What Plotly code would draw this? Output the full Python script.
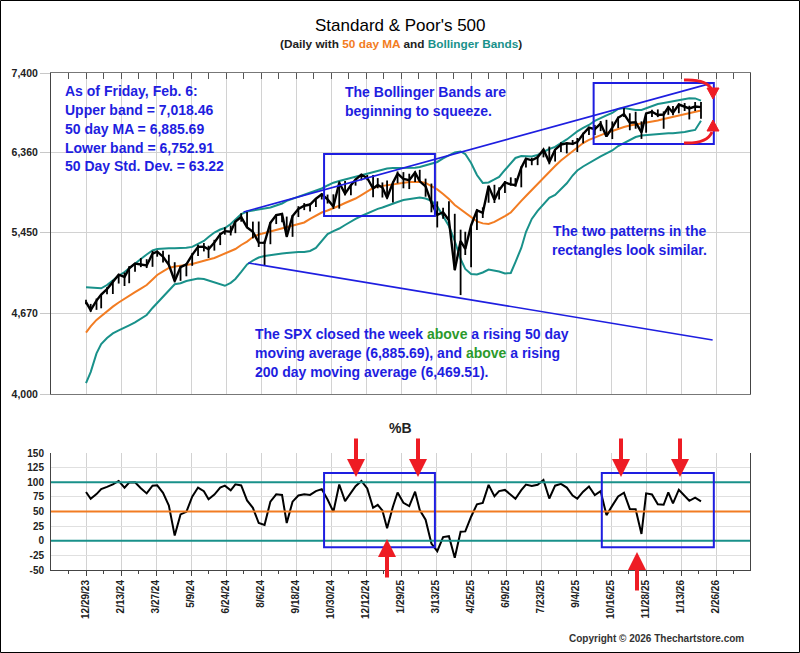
import numpy as np
import pandas as pd
import plotly.graph_objects as go

# NYSE closures inside the plotted window (skipped on the x axis)
holidays = ["2023-11-23", "2023-12-25",
            "2024-01-01", "2024-01-15", "2024-02-19", "2024-03-29", "2024-05-27", "2024-06-19",
            "2024-07-04", "2024-09-02", "2024-11-28", "2024-12-25",
            "2025-01-01", "2025-01-09", "2025-01-20", "2025-02-17", "2025-04-18", "2025-05-26",
            "2025-06-19", "2025-07-04", "2025-09-01", "2025-11-27", "2025-12-25",
            "2026-01-01", "2026-01-19", "2026-02-16", "2026-04-03"]

tick_dates = ["2023-12-29", "2024-02-13", "2024-03-27", "2024-05-09", "2024-06-24", "2024-08-06",
              "2024-09-18", "2024-10-30", "2024-12-12", "2025-01-29", "2025-03-13", "2025-04-25",
              "2025-06-09", "2025-07-23", "2025-09-04", "2025-10-16", "2025-11-28", "2026-01-13",
              "2026-02-26"]
tick_labels = ["12/29/23", "2/13/24", "3/27/24", "5/9/24", "6/24/24", "8/6/24", "9/18/24",
               "10/30/24", "12/12/24", "1/29/25", "3/13/25", "4/25/25", "6/9/25", "7/23/25",
               "9/4/25", "10/16/25", "11/28/25", "1/13/26", "2/26/26"]

price_ticks = [4000, 4670, 5450, 6360, 7400]
pctb_ticks = [150, 125, 100, 75, 50, 25, 0, -25, -50]

# weekly bars (last trading day of each week), 12/29/23 .. 2/6/26
cbd = pd.offsets.CustomBusinessDay(holidays=holidays)
weeks = [cbd.rollback(d) for d in pd.date_range("2023-12-29", "2026-02-06", freq="W-FRI")]

close = [4770,
         4697, 4784, 4840, 4891, 4959, 5027, 5006, 5089, 5137, 5124, 5117, 5234, 5254,
         5204, 5123, 4967, 5100, 5128, 5223, 5303, 5305, 5278, 5347, 5432, 5465, 5460,
         5567, 5615, 5505, 5459, 5346, 5344, 5554, 5635, 5648, 5408, 5626, 5703, 5738,
         5751, 5815, 5865, 5808, 5729, 5996, 5871, 5969, 6032, 6090, 6051, 5931, 5971,
         5942, 5827, 5997, 6101, 6041, 6026, 6115, 6013, 5955, 5770, 5639, 5667, 5581,
         5074, 5363, 5283, 5525, 5687, 5660, 5958, 5803, 5912, 6000, 5977, 5968, 6173,
         6279, 6260, 6297, 6389, 6238, 6389, 6450, 6467, 6460, 6482, 6584, 6664, 6644,
         6716, 6553, 6664, 6792, 6840, 6728, 6734, 6603, 6849, 6870, 6827, 6834, 6930,
         6858, 6966, 6940, 6915, 6939, 6932]
high = [4793,
        4754, 4803, 4842, 4907, 4975, 5030, 5048, 5111, 5141, 5190, 5179, 5262, 5265,
        5264, 5224, 5149, 5114, 5139, 5239, 5325, 5342, 5315, 5375, 5448, 5506, 5524,
        5570, 5655, 5670, 5566, 5567, 5366, 5561, 5643, 5651, 5620, 5636, 5733, 5767,
        5765, 5823, 5878, 5862, 5865, 6013, 6017, 5972, 6044, 6099, 6086, 6085, 6050,
        6000, 6021, 6012, 6128, 6120, 6101, 6127, 6147, 6044, 5987, 5786, 5715, 5787,
        5650, 5481, 5459, 5528, 5700, 5720, 5965, 5973, 5944, 6016, 6059, 6050, 6187,
        6285, 6290, 6315, 6395, 6427, 6395, 6481, 6474, 6508, 6533, 6600, 6672, 6699,
        6750, 6765, 6744, 6807, 6920, 6850, 6870, 6745, 6853, 6896, 6901, 6875, 6945,
        6945, 6980, 6986, 6950, 7000, 7000]
low = [4751,
       4682, 4700, 4714, 4842, 4845, 4943, 4920, 4946, 5057, 5101, 5092, 5104, 5204,
       5147, 5107, 4953, 4969, 5012, 5114, 5211, 5257, 5191, 5265, 5321, 5428, 5420,
       5444, 5565, 5497, 5390, 5302, 5119, 5330, 5540, 5560, 5402, 5406, 5615, 5690,
       5674, 5725, 5807, 5762, 5703, 5706, 5853, 5853, 5963, 6024, 6026, 5832, 5933,
       5829, 5809, 5773, 5990, 5933, 5924, 6004, 6009, 5838, 5666, 5504, 5597, 5572,
       5069, 4835, 5221, 5101, 5478, 5605, 5771, 5768, 5807, 5881, 5963, 5952, 5944,
       6174, 6201, 6202, 6295, 6212, 6245, 6360, 6343, 6445, 6360, 6467, 6570, 6570,
       6620, 6550, 6520, 6660, 6800, 6631, 6650, 6522, 6600, 6800, 6800, 6650, 6830,
       6825, 6850, 6880, 6770, 6880, 6780]
ma50 = [4499,
        4553, 4610, 4645, 4685, 4729, 4767, 4804, 4833, 4863, 4896, 4929, 4982, 5025,
        5059, 5093, 5108, 5112, 5122, 5132, 5145, 5161, 5176, 5191, 5214, 5232, 5256,
        5281, 5322, 5357, 5404, 5430, 5446, 5462, 5479, 5493, 5504, 5517, 5533, 5557,
        5595, 5632, 5664, 5686, 5710, 5738, 5768, 5796, 5818, 5857, 5897, 5937, 5952,
        5960, 5965, 5977, 5988, 6000, 6005, 6005, 6009, 5994, 5960, 5920, 5868, 5813,
        5746, 5697, 5664, 5611, 5568, 5547, 5541, 5563, 5589, 5626, 5664, 5724, 5791,
        5846, 5914, 5977, 6057, 6127, 6192, 6258, 6312, 6367, 6421, 6471, 6509, 6540,
        6571, 6597, 6622, 6651, 6673, 6692, 6705, 6711, 6724, 6737, 6756, 6776, 6789,
        6798, 6815, 6835, 6846, 6862, 6885.69]
upper = [4907,
         4905, 4901, 4898, 4929, 4977, 5016, 5054, 5092, 5137, 5181, 5226, 5266, 5281,
         5288, 5288, 5288, 5288, 5293, 5303, 5334, 5363, 5404, 5451, 5482, 5498, 5541,
         5589, 5648, 5675, 5686, 5692, 5703, 5719, 5741, 5763, 5791, 5813, 5835, 5863,
         5886, 5908, 5931, 5965, 5997, 6016, 6034, 6051, 6063, 6080, 6098, 6121, 6139,
         6151, 6163, 6169, 6169, 6171, 6172, 6172, 6180, 6198, 6222, 6240, 6282, 6318,
         6355, 6367, 6336, 6228, 6086, 5994, 6000, 6034, 6063, 6145, 6228, 6288, 6312,
         6312, 6306, 6324, 6365, 6397, 6422, 6465, 6515, 6571, 6616, 6660, 6698, 6750,
         6789, 6822, 6854, 6907, 6920, 6907, 6894, 6894, 6914, 6947, 6973, 6987, 7000,
         7007, 7020, 7041, 7051, 7048, 7018.46]
lower = [4085,
         4172, 4324, 4402, 4453, 4493, 4518, 4540, 4562, 4588, 4619, 4654, 4717, 4762,
         4822, 4873, 4936, 4946, 4967, 4980, 4991, 4986, 4972, 4958, 4934, 4922, 4950,
         4987, 5054, 5127, 5166, 5196, 5211, 5221, 5228, 5236, 5241, 5249, 5252, 5252,
         5262, 5292, 5368, 5435, 5466, 5493, 5530, 5568, 5595, 5626, 5654, 5686, 5703,
         5719, 5735, 5757, 5779, 5802, 5813, 5818, 5829, 5818, 5791, 5730, 5626, 5519,
         5363, 5181, 5083, 5035, 5030, 5049, 5078, 5068, 5059, 5040, 5044, 5151, 5292,
         5456, 5595, 5681, 5757, 5825, 5857, 5920, 5990, 6080, 6139, 6186, 6228, 6264,
         6306, 6343, 6379, 6434, 6471, 6515, 6546, 6565, 6571, 6578, 6584, 6590, 6593,
         6593, 6597, 6610, 6622, 6635, 6752.91]

close_a = np.array(close, dtype=float)
pct_b = (close_a - np.array(lower)) / (np.array(upper) - np.array(lower)) * 100

TEAL = "#19918a"
ORANGE = "#f27c22"
BLUE = "#1e1ee0"
RED = "#ee1c24"
GREEN = "#2b9a2b"
GRID = "#d2d2d2"
FONT = "Liberation Sans, Arial, sans-serif"

# plot area in pixels: x 51..750, y 73..570
def px(x):
    return (x - 51) / 699


def py(y):
    return (570 - y) / 497


fig = go.Figure()

# price panel
fig.add_trace(go.Scatter(x=weeks, y=upper, xaxis="x2", yaxis="y2", mode="lines",
                         line=dict(color=TEAL, width=2)))
fig.add_trace(go.Scatter(x=weeks, y=lower, xaxis="x2", yaxis="y2", mode="lines",
                         line=dict(color=TEAL, width=2)))
fig.add_trace(go.Scatter(x=weeks, y=ma50, xaxis="x2", yaxis="y2", mode="lines",
                         line=dict(color=ORANGE, width=2)))
fig.add_trace(go.Scatter(x=weeks, y=close, xaxis="x2", yaxis="y2", mode="lines",
                         line=dict(color="black", width=2.4),
                         error_y=dict(type="data", symmetric=False,
                                      array=np.array(high) - close_a,
                                      arrayminus=close_a - np.array(low),
                                      width=0, thickness=1.8, color="black")))

# %B panel
fig.add_trace(go.Scatter(x=weeks, y=pct_b, xaxis="x", yaxis="y", mode="lines",
                         line=dict(color="black", width=2)))

rangebreaks = [dict(bounds=["sat", "mon"]), dict(values=holidays)]
x_range = ["2023-11-15", "2026-04-09"]
minor_ticks = [pd.Timestamp(tick_dates[0]) - 15 * cbd] + [pd.Timestamp(d) + 15 * cbd for d in tick_dates]

tick_font = dict(family=FONT, size=10.5, color="#222", weight="bold")
small_font = dict(family=FONT, size=10, color="#222", weight="bold")

price_axis = dict(type="log", range=[np.log10(4000), np.log10(7400)], tickvals=price_ticks,
                  ticktext=[f"{v:,}" for v in price_ticks], tickfont=tick_font,
                  domain=[py(394), 1], showgrid=True, gridcolor=GRID, zeroline=False,
                  ticks="outside", ticklen=10, tickcolor="#c8c8c8")
pctb_axis = dict(range=[-50, 150], tickvals=pctb_ticks, ticktext=[str(v) for v in pctb_ticks],
                 tickfont=small_font, domain=[0, py(453)], showgrid=True, gridcolor="#e0e0e0",
                 zeroline=False, ticks="outside", ticklen=4, tickcolor="white")

fig.update_layout(
    width=800, height=653,
    margin=dict(l=51, r=50, t=73, b=83),
    paper_bgcolor="white", plot_bgcolor="white",
    showlegend=False,
    font=dict(family=FONT),
    xaxis=dict(type="date", range=x_range, rangebreaks=rangebreaks, anchor="y",
               tickvals=tick_dates, ticktext=tick_labels, tickangle=-90, tickfont=small_font,
               ticks="outside", ticklen=5, tickcolor="#444",
               minor=dict(tickvals=minor_ticks, ticks="outside", ticklen=3, tickcolor="#444"),
               showgrid=True, gridcolor=GRID, showline=True, linecolor="#444", mirror=False),
    xaxis2=dict(type="date", range=x_range, rangebreaks=rangebreaks, anchor="y2", side="top",
                tickvals=tick_dates, showticklabels=False, ticks="inside", ticklen=6,
                tickcolor="#555",
                minor=dict(tickvals=minor_ticks, ticks="inside", ticklen=6, tickcolor="#555"),
                showgrid=True, gridcolor=GRID, showline=True, linecolor="#777", mirror=True),
    yaxis=dict(anchor="x", showline=True, linecolor="#444", mirror=True, **pctb_axis),
    yaxis4=dict(anchor="x", overlaying="y", side="right", **{**pctb_axis, "showgrid": False}),
    yaxis2=dict(anchor="x2", showline=True, linecolor="#444", mirror=True, **price_axis),
    yaxis3=dict(anchor="x2", overlaying="y2", side="right", **{**price_axis, "showgrid": False}),
)

shapes = []
# reference levels on %B
for level, col in [(100, TEAL), (50, ORANGE), (0, TEAL)]:
    shapes.append(dict(type="line", xref="x domain", yref="y", x0=0, x1=1, y0=level, y1=level,
                       line=dict(color=col, width=2)))

# rectangles around the two look-alike patterns
for x0, x1, y0, y1 in [("2024-10-22", "2025-03-12", 5627, 6337),
                       ("2025-09-25", "2026-02-24", 6459, 7261)]:
    shapes.append(dict(type="rect", xref="x2", yref="y2", x0=x0, x1=x1, y0=y0, y1=y1,
                       line=dict(color=BLUE, width=2)))
for x0, x1 in [("2024-10-22", "2025-03-12"), ("2025-10-06", "2026-02-24")]:
    shapes.append(dict(type="rect", xref="x", yref="y", x0=x0, x1=x1, y0=-11, y1=116,
                       line=dict(color=BLUE, width=2)))

# trend lines (broadening pattern)
shapes.append(dict(type="line", xref="x2", yref="y2", x0="2024-07-16", y0=5670,
                   x1="2026-02-23", y1=7261, line=dict(color=BLUE, width=1.6)))
shapes.append(dict(type="line", xref="x2", yref="y2", x0="2024-07-22", y0=5142,
                   x1="2026-02-23", y1=4436, line=dict(color=BLUE, width=1.6)))

# curved red arrows pointing at the squeeze
shapes.append(dict(type="path", xref="paper", yref="paper",
                   path=f"M{px(684)},{py(80)} Q{px(707)},{py(79)} {px(712)},{py(90)}",
                   line=dict(color=RED, width=3)))
shapes.append(dict(type="path", xref="paper", yref="paper",
                   path=f"M{px(707)},{py(88)} L{px(719)},{py(88)} L{px(713)},{py(99)} Z",
                   fillcolor=RED, line=dict(color=RED, width=1)))
shapes.append(dict(type="path", xref="paper", yref="paper",
                   path=f"M{px(684)},{py(143)} Q{px(707)},{py(144)} {px(712)},{py(132)}",
                   line=dict(color=RED, width=3)))
shapes.append(dict(type="path", xref="paper", yref="paper",
                   path=f"M{px(707)},{py(131)} L{px(719)},{py(131)} L{px(713)},{py(120)} Z",
                   fillcolor=RED, line=dict(color=RED, width=1)))

# outer frame of the picture
shapes.append(dict(type="rect", xref="paper", yref="paper", x0=px(0.5), x1=px(799.5),
                   y0=py(652.5), y1=py(0.5), line=dict(color="black", width=1)))
fig.update_layout(shapes=shapes)

annotations = [
    dict(x=0.5, y=py(26), text="Standard &amp; Poor's 500",
         font=dict(family=FONT, size=17, color="black")),
    dict(x=0.5, y=py(44),
         text=f"(Daily with <span style='color:{ORANGE}'>50 day MA</span> and "
              f"<span style='color:{TEAL}'>Bollinger Bands</span>)",
         font=dict(family=FONT, size=11.8, color="#222", weight="bold")),
    dict(x=0.5, y=py(428), text="%B", font=dict(family=FONT, size=14, color="#222", weight="bold")),
    dict(x=px(746), y=py(638), xanchor="right", text="Copyright © 2026 Thechartstore.com",
         font=dict(family=FONT, size=10, color="#333", weight="bold")),
]

blue_notes = [
    (63, 91, "As of Friday, Feb. 6:"),
    (63, 110, "Upper band = 7,018.46"),
    (63, 129, "50 day MA = 6,885.69"),
    (63, 148, "Lower band = 6,752.91"),
    (63, 166, "50 Day Std. Dev. = 63.22"),
    (343, 92, "The Bollinger Bands are"),
    (343, 111, "beginning to squeeze."),
    (551, 231, "The two patterns in the"),
    (550, 250, "rectangles look similar."),
    (253, 334, f"The SPX closed the week <span style='color:{GREEN}'>above</span> a rising 50 day"),
    (253, 353, f"moving average (6,885.69), and <span style='color:{GREEN}'>above</span> a rising"),
    (253, 372, "200 day moving average (6,469.51)."),
]
for x, y, t in blue_notes:
    annotations.append(dict(x=px(x), y=py(y), xanchor="left", text=t,
                            font=dict(family=FONT, size=14, color=BLUE, weight="bold")))

# straight red arrows on the %B panel: (x, tip y, tail offset)
for x, tip, off in [(356, 477, -40), (418, 477, -40), (621, 477, -40), (680, 477, -40),
                    (387, 539, 40), (637, 552, 40)]:
    annotations.append(dict(x=px(x), y=py(tip), ax=0, ay=off, text="", showarrow=True,
                            arrowhead=2, arrowsize=0.9, arrowwidth=4, arrowcolor=RED))

for a in annotations:
    a.setdefault("xref", "paper")
    a.setdefault("yref", "paper")
    a.setdefault("showarrow", False)
    a.setdefault("yanchor", "middle")
fig.update_layout(annotations=annotations)

fig.write_html("out.html", config={"displayModeBar": False},
               post_script="document.body.style.margin='0';")
